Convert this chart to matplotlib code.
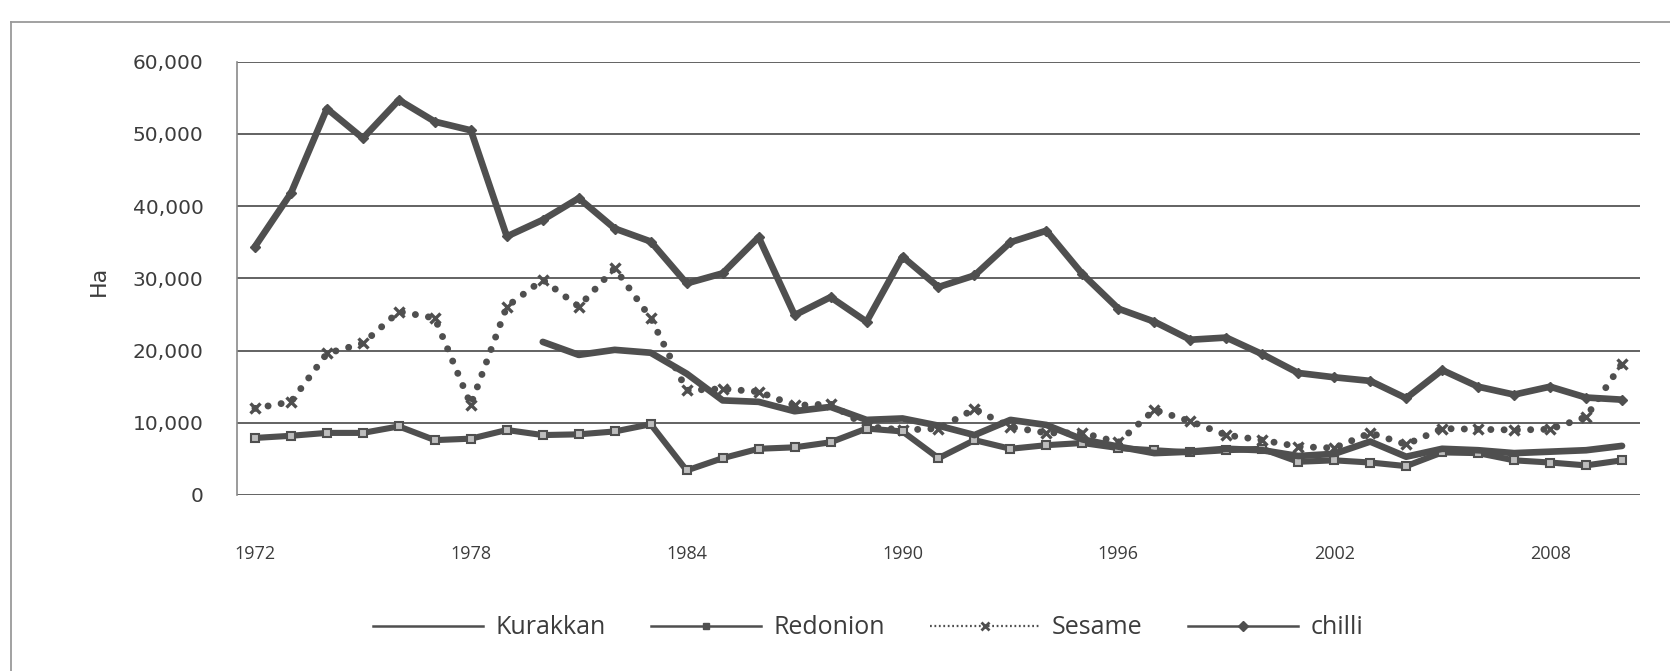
import matplotlib
matplotlib.use("Agg")
import matplotlib.pyplot as plt
from matplotlib.lines import Line2D
from matplotlib.ticker import FuncFormatter
import numpy as np

# sown extent (Ha), 1972-2010
years = list(range(1972, 2011))
kurakkan = [np.nan] * 8 + [
    21200, 19400, 20100, 19700, 16800, 13100, 12900, 11600, 12200, 10400,
    10600, 9600, 8300, 10400, 9700, 7700, 6700, 5800, 6000, 6400,
    6200, 5400, 5700, 7400, 5300, 6400, 6200, 5800, 6000, 6200, 6800]
redonion = [
    7900, 8200, 8600, 8600, 9500, 7600, 7800, 9000, 8300, 8400,
    8800, 9800, 3400, 5100, 6400, 6600, 7300, 9200, 8800, 5100,
    7600, 6400, 6900, 7200, 6500, 6200, 5900, 6200, 6400, 4600,
    4800, 4500, 4000, 5900, 5800, 4800, 4500, 4100, 4800]
sesame = [
    12000, 12900, 19600, 21000, 25400, 24500, 12500, 26100, 29800, 26100,
    31400, 24500, 14500, 14700, 14300, 12400, 12600, 9500, 9000, 9200,
    11900, 9400, 8600, 8600, 7300, 11800, 10200, 8300, 7600, 6700,
    6500, 8600, 7000, 9200, 9100, 9000, 9100, 10800, 18200]
chilli = [
    34400, 41800, 53500, 49400, 54700, 51700, 50500, 35800, 38100, 41100,
    36900, 35100, 29300, 30700, 35700, 24900, 27400, 24000, 33000, 28800,
    30400, 35000, 36600, 30600, 25800, 24000, 21500, 21800, 19500, 16900,
    16300, 15800, 13400, 17300, 15000, 13900, 15000, 13500, 13200]
tick_years = [1972, 1978, 1984, 1990, 1996, 2002, 2008]

ink = "#4f4f4f"
W, H = 1670, 671

fig = plt.figure(figsize=(W / 100, H / 100), dpi=100)
fig.patch.set_facecolor("white")
ax = fig.add_axes([237 / W, 1 - 495 / H, 1403 / W, 433.3 / H])

x = np.arange(len(years))
ax.plot(x, sesame, color=ink, lw=5.0, dashes=(0.01, 1.9), dash_capstyle="round",
        marker="x", ms=7, mew=2.4, zorder=3)
ax.plot(x, redonion, color=ink, lw=4.4, marker="s", ms=6, mfc="#bdbdbd", mec=ink,
        mew=1.5, solid_joinstyle="round", solid_capstyle="round", zorder=4)
ax.plot(x, kurakkan, color=ink, lw=4.8, solid_joinstyle="round",
        solid_capstyle="round", zorder=5)
ax.plot(x, chilli, color=ink, lw=4.8, marker="D", ms=5, solid_joinstyle="round",
        solid_capstyle="round", zorder=6)

ax.set_xlim(-0.5, len(years) - 0.5)
ax.set_ylim(0, 60000)
ax.set_yticks(range(0, 60001, 10000))
ax.yaxis.set_major_formatter(FuncFormatter(lambda v, p: f"{int(v):,}"))
ax.set_xticks([years.index(t) for t in tick_years])
ax.set_xticklabels([str(t) for t in tick_years])

ax.grid(axis="y", color="#626262", lw=1.4)
ax.set_axisbelow(True)
for s in ["top", "right", "bottom"]:
    ax.spines[s].set_visible(False)
ax.spines["left"].set_color("#8a8a8a")
ax.spines["left"].set_linewidth(1.2)
ax.tick_params(length=0)
ax.tick_params(axis="y", pad=24, labelsize=14.5, labelcolor="#3c3c3c")
ax.tick_params(axis="x", pad=36, labelsize=13, labelcolor="#3c3c3c")
for t in ax.get_xticklabels():
    t.set_family("Open Sans")

fig.text(99 / W, 1 - 281 / H, "Ha", rotation=90, ha="center", va="center",
         fontsize=16, color="#3c3c3c")

# thinner proxy lines for the legend, like the original
handles = [
    Line2D([], [], color=ink, lw=1.8),
    Line2D([], [], color=ink, lw=1.8, marker="s", ms=5, mfc=ink),
    Line2D([], [], color=ink, lw=1.6, ls=(0, (0.8, 1.2)), marker="x", ms=6, mew=2),
    Line2D([], [], color=ink, lw=1.8, marker="D", ms=5),
]
labels = ["Kurakkan", "Redonion", "Sesame", "chilli"]
fig.legend(handles, labels, loc="center", bbox_to_anchor=(868 / W, 1 - 628 / H),
           ncol=4, frameon=False, handlelength=4.4, handletextpad=0.5,
           columnspacing=1.8, numpoints=1,
           prop={"family": "Open Sans", "size": 18}, labelcolor="#3c3c3c")

# outer chart-area border (cropped at right and bottom in the scan)
fig.add_artist(Line2D([11 / W, 11 / W], [0, 1 - 22 / H], transform=fig.transFigure,
                      color="#9a9a9a", lw=1.3))
fig.add_artist(Line2D([11 / W, 1], [1 - 22 / H, 1 - 22 / H], transform=fig.transFigure,
                      color="#9a9a9a", lw=1.3))

fig.savefig("out.png", dpi=100, facecolor="white")
